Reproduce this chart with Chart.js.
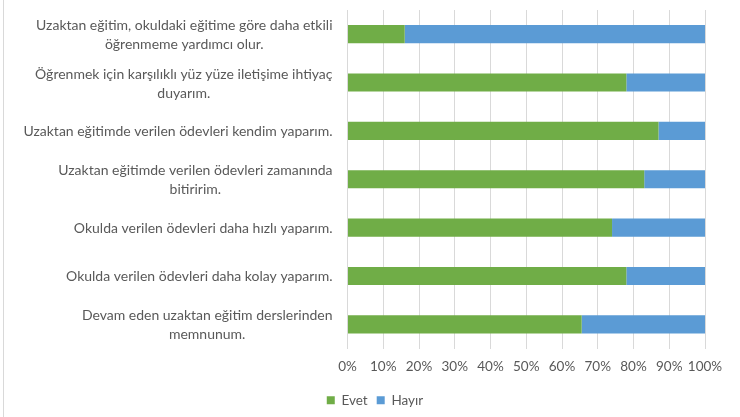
<!DOCTYPE html>
<html>
<head>
<meta charset="utf-8">
<script src="https://cdn.jsdelivr.net/npm/chart.js@4.4.1/dist/chart.umd.min.js"></script>
<style>
  html, body { margin: 0; padding: 0; background: #fff; }
  #wrap { position: relative; width: 740px; height: 417px; }
  #frame { position: absolute; left: 3px; top: 0; width: 1px; height: 417px; background: #d9d9d9; }
</style>
</head>
<body>
<div id="wrap">
  <canvas id="myChart" width="740" height="417"></canvas>
  <div id="frame"></div>
</div>
<script>
const labels = [
    ['Uzaktan eğitim, okuldaki eğitime göre daha etkili', 'öğrenmeme yardımcı olur.'],
    ['Öğrenmek için karşılıklı yüz yüze iletişime ihtiyaç', 'duyarım.'],
    ['Uzaktan eğitimde verilen ödevleri kendim yaparım.'],
    ['Uzaktan eğitimde verilen ödevleri zamanında', 'bitiririm.'],
    ['Okulda verilen ödevleri daha hızlı yaparım.'],
    ['Okulda verilen ödevleri daha kolay yaparım.'],
    ['Devam eden uzaktan eğitim derslerinden', 'memnunum.']
];
const evet = [16, 78, 87, 83, 74, 78, 65.5];
const hayir = [84, 22, 13, 17, 26, 22, 34.5];

const textColor = '#595959';
const fontFamily = 'Lato, "Open Sans", sans-serif';

// Excel style labels: block right aligned, lines centered inside the block
const catLabels = {
    id: 'catLabels',
    afterDraw(chart) {
        const scale = chart.scales.y;
        const ctx = chart.ctx;
        ctx.save();
        ctx.font = '14px ' + fontFamily;
        ctx.fillStyle = textColor;
        ctx.textAlign = 'center';
        ctx.textBaseline = 'middle';
        const right = scale.right - 15;
        const lineH = 19;
        labels.forEach((lines, i) => {
            const y = scale.getPixelForTick(i);
            const w = Math.max(...lines.map(l => ctx.measureText(l).width));
            const cx = right - w / 2;
            const top = y - (lines.length - 1) * lineH / 2;
            lines.forEach((l, j) => ctx.fillText(l, cx, top + j * lineH + 1));
        });
        ctx.restore();
    }
};

const ctx = document.getElementById('myChart').getContext('2d');
const myChart = new Chart(ctx, {
    type: 'bar',
    data: {
        labels: labels,
        datasets: [
            { label: 'Evet', data: evet, backgroundColor: '#70AD47' },
            { label: 'Hayır', data: hayir, backgroundColor: '#5B9BD5' }
        ]
    },
    options: {
        indexAxis: 'y',
        responsive: false,
        animation: false,
        layout: { padding: { top: 10, right: 35, left: 45, bottom: 0 } },
        datasets: { bar: { barPercentage: 0.375, categoryPercentage: 1 } },
        scales: {
            x: {
                stacked: true,
                min: 0,
                max: 100,
                ticks: {
                    stepSize: 10,
                    padding: 10,
                    maxRotation: 0,
                    autoSkip: false,
                    color: textColor,
                    font: { family: fontFamily, size: 13.5 },
                    callback: v => v + '%'
                },
                grid: { color: '#d9d9d9', drawTicks: false },
                border: { display: false },
                afterFit: s => { s.height = 36; }
            },
            y: {
                stacked: true,
                ticks: { display: false },
                grid: { display: false },
                border: { display: false },
                afterFit: s => { s.width = 302.5; }
            }
        },
        plugins: {
            legend: {
                position: 'bottom',
                labels: {
                    boxWidth: 8,
                    boxHeight: 8,
                    padding: 9,
                    color: textColor,
                    font: { family: fontFamily, size: 13.5 }
                }
            },
            tooltip: { enabled: false }
        }
    },
    plugins: [catLabels]
});
</script>
</body>
</html>
